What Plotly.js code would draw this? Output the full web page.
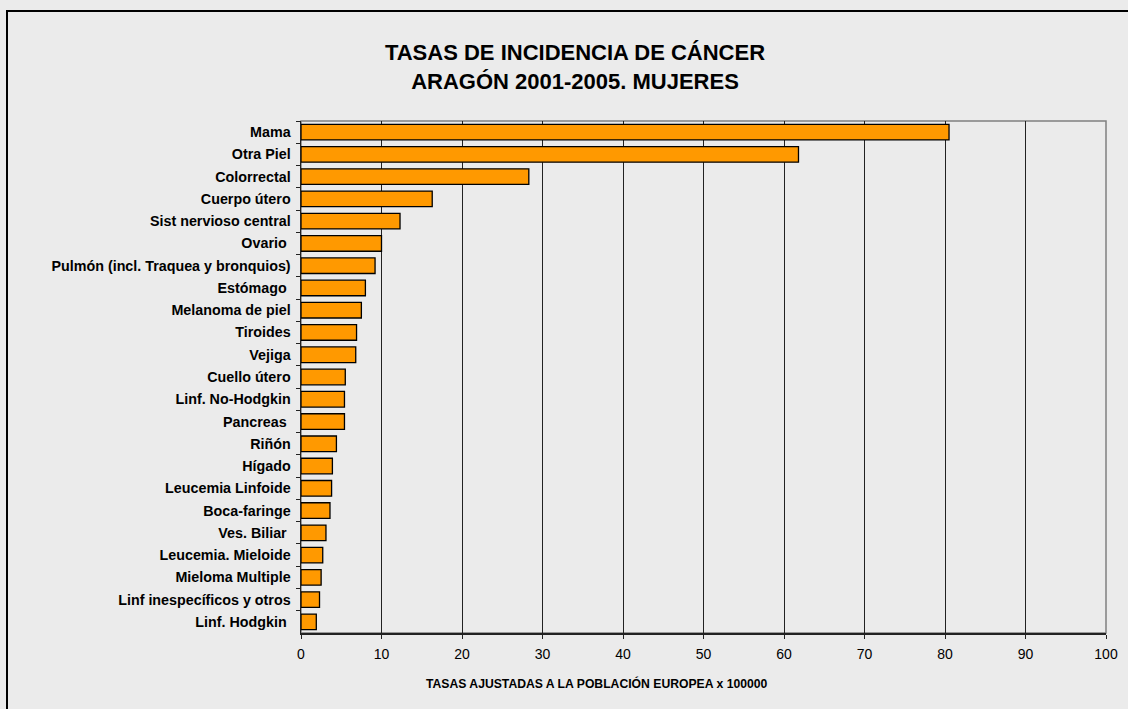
<!DOCTYPE html>
<html>
<head>
<meta charset="utf-8">
<script src="https://cdn.plot.ly/plotly-3.0.1.min.js"></script>
<style>
html,body{margin:0;padding:0;background:#ebebeb;overflow:hidden;}
#frame{position:absolute;left:6px;top:10px;width:1400px;height:900px;border:2px solid #000;box-sizing:border-box;pointer-events:none;z-index:5;}
#chart{position:absolute;left:0;top:0;width:1128px;height:709px;}
</style>
</head>
<body>
<div id="chart"></div>
<div id="frame"></div>
<script>
const categories = [
  "Mama", "Otra Piel", "Colorrectal", "Cuerpo útero", "Sist nervioso central",
  "Ovario\u00a0", "Pulmón (incl. Traquea y bronquios)", "Estómago\u00a0", "Melanoma de piel",
  "Tiroides", "Vejiga", "Cuello útero", "Linf. No-Hodgkin", "Pancreas\u00a0", "Riñón",
  "Hígado", "Leucemia Linfoide", "Boca-faringe", "Ves. Biliar\u00a0", "Leucemia. Mieloide",
  "Mieloma Multiple", "Linf inespecíficos y otros", "Linf. Hodgkin\u00a0"
];
const rates = [
  80.5, 61.8, 28.3, 16.3, 12.3,
  10.0, 9.2, 8.0, 7.5,
  6.9, 6.8, 5.5, 5.4, 5.4, 4.4,
  3.9, 3.8, 3.6, 3.1, 2.7,
  2.5, 2.3, 1.9
];
const xTicks = [0, 10, 20, 30, 40, 50, 60, 70, 80, 90, 100];

const trace = {
  type: 'bar',
  orientation: 'h',
  x: rates,
  y: categories,
  marker: {color: '#ff9900', line: {color: '#000000', width: 1.3}},
  hoverinfo: 'x+y'
};

const layout = {
  width: 1128, height: 709,
  paper_bgcolor: '#ebebeb',
  plot_bgcolor: '#ebebeb',
  margin: {l: 301, r: 22, t: 121, b: 76},
  bargap: 0.3,
  showlegend: false,
  font: {family: 'Liberation Sans, Arial, sans-serif', color: '#000'},
  title: {
    text: '<b>TASAS DE INCIDENCIA DE CÁNCER<br>ARAGÓN 2001-2005. MUJERES</b>',
    font: {size: 22, color: '#000'},
    x: (575 - 301) / 805, xanchor: 'center', xref: 'paper',
    y: 1 - 60/709, yanchor: 'middle'
  },
  xaxis: {
    range: [0, 100],
    tickvals: xTicks,
    ticktext: xTicks.map(String),
    tickfont: {size: 14},
    ticks: 'outside', ticklen: 4, tickcolor: '#222', tickwidth: 1,
    ticklabelstandoff: 4,
    showgrid: true, gridcolor: '#222', gridwidth: 1,
    showline: true, linecolor: '#222', linewidth: 1.5,
    zeroline: false, fixedrange: true
  },
  yaxis: {
    type: 'category',
    autorange: 'reversed',
    tickfont: {size: 14.3, weight: 'bold'},
    ticks: 'outside', ticklen: 4, tickcolor: '#222', tickwidth: 1,
    tickson: 'boundaries',
    ticklabelstandoff: 6,
    showgrid: false,
    showline: true, linecolor: '#222', linewidth: 1.5,
    zeroline: false, fixedrange: true
  },
  shapes: [{
    type: 'rect', xref: 'paper', yref: 'paper', x0: 0, x1: 1, y0: 0, y1: 1,
    line: {color: '#808080', width: 1.5}, layer: 'below'
  }],
  annotations: [{
    text: '<b>TASAS AJUSTADAS A LA POBLACIÓN EUROPEA x 100000</b>',
    xref: 'paper', yref: 'paper',
    x: (597 - 301) / 805, y: -50/512,
    xanchor: 'center', yanchor: 'middle',
    showarrow: false, font: {size: 12.2, color: '#000'}
  }]
};

Plotly.newPlot('chart', [trace], layout, {displayModeBar: false, staticPlot: true});
</script>
</body>
</html>
